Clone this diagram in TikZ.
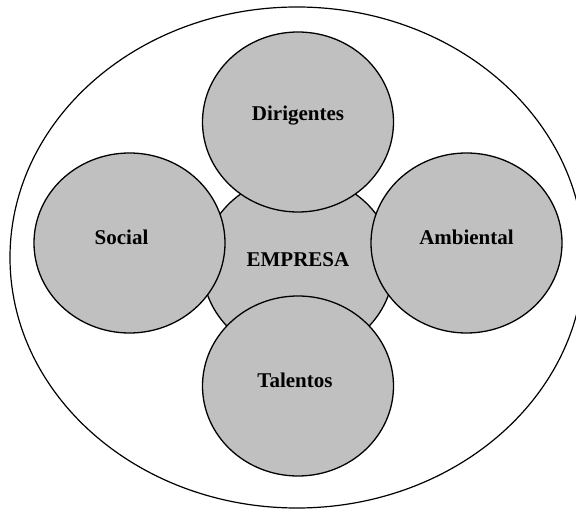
\documentclass[tikz,border=0pt]{standalone}
\usepackage{fontspec}
\setmainfont{Liberation Serif}
\usetikzlibrary{shapes.geometric}
\definecolor{discgray}{RGB}{192,192,192}
\begin{document}
\begin{tikzpicture}[x=1pt,y=-1pt,
  disc/.style={ellipse, draw=black, line width=1.3pt, fill=discgray,
    minimum width=191pt, minimum height=180pt, inner sep=0pt},
  frame/.style={ellipse, draw=black, line width=1.2pt,
    minimum width=574pt, minimum height=501pt, inner sep=0pt},
  lbl/.style={font=\fontsize{21}{24}\selectfont\bfseries, inner sep=0pt}]
\useasboundingbox (0,0) rectangle (576,510);
\clip (0,0) rectangle (576,510);
% surrounding environment
\node[frame] (outer) at (297,257.5) {};
% the company sits behind the four surrounding discs
\node[disc] (empresa) at (298,266) {};
\node[disc] (dirigentes) at (298,122) {};
\node[disc] (social) at (129.5,243) {};
\node[disc] (ambiental) at (466.5,243) {};
\node[disc] (talentos) at (298,386) {};
% labels, set slightly above each disc centre
\node[lbl] (empresaLbl) at ([yshift=6pt]empresa.center) {EMPRESA};
\node[lbl] (dirigentesLbl) at ([yshift=6pt]dirigentes.center) {Dirigentes};
\node[lbl] (socialLbl) at ([yshift=6pt,xshift=-8pt]social.center) {Social};
\node[lbl] (ambientalLbl) at ([yshift=6pt]ambiental.center) {Ambiental};
\node[lbl] (talentosLbl) at ([yshift=6pt,xshift=-3pt]talentos.center) {Talentos};
\end{tikzpicture}
\end{document}
